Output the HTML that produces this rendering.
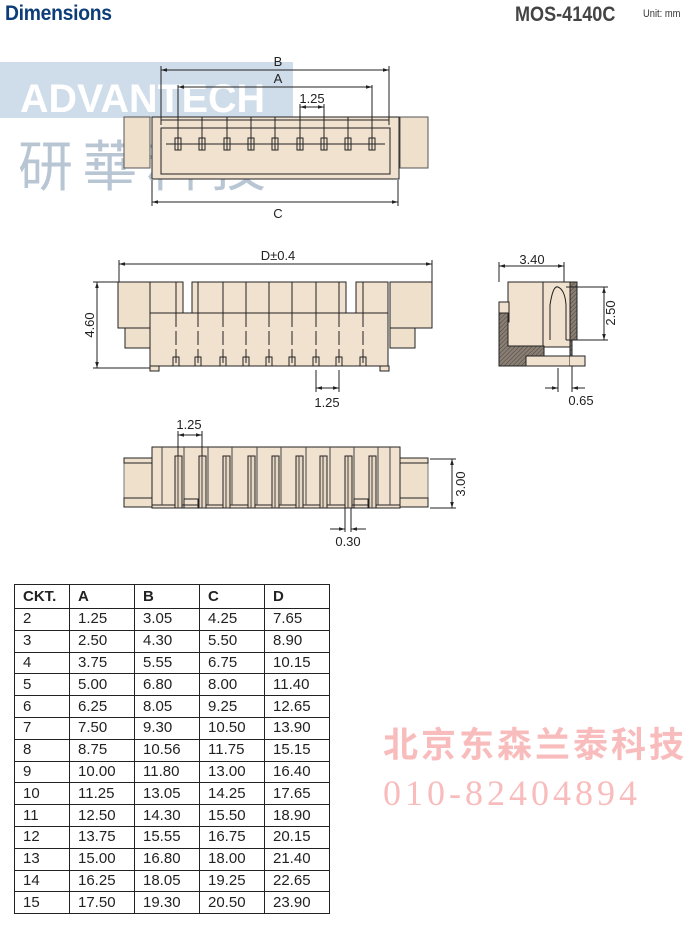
<!DOCTYPE html>
<html><head><meta charset="utf-8"><style>
html,body{margin:0;padding:0;background:#fff;}
body{width:700px;height:933px;position:relative;overflow:hidden;font-family:"Liberation Sans",sans-serif;}
.abs{position:absolute;}
table{position:absolute;left:14px;top:584px;border-collapse:collapse;font-family:"Liberation Sans",sans-serif;font-size:15px;color:#222;}
td{border:1px solid #222;height:21.8px;padding:0 0 0 8px;box-sizing:border-box;line-height:20px;}
tr.h td{font-weight:bold;height:24px;}
</style></head><body>
<div class="abs" style="left:5px;top:2px;font-size:21px;font-weight:bold;color:#0d3d78;letter-spacing:-0.3px;transform:scaleX(.92);transform-origin:left;">Dimensions</div>
<div class="abs" style="left:515px;top:3px;font-size:21px;font-weight:bold;color:#444;transform:scaleX(.86);transform-origin:left;">MOS-4140C</div>
<div class="abs" style="left:643px;top:8px;font-size:11px;color:#333;transform:scaleX(.85);transform-origin:left;">Unit: mm</div>

<svg class="abs" style="left:0;top:0" width="700" height="933" viewBox="0 0 700 933" font-family="Liberation Sans, sans-serif">
<defs>
<marker id="ar" viewBox="0 0 10 10" refX="10" refY="5" markerWidth="6" markerHeight="6" orient="auto-start-reverse"><path d="M0,2 L10,5 L0,8 z" fill="#222"/></marker>
<pattern id="hat" width="3" height="3" patternUnits="userSpaceOnUse" patternTransform="rotate(45)"><rect width="3" height="3" fill="#8a7f74"/><line x1="0" y1="0" x2="0" y2="3" stroke="#4a423b" stroke-width="1"/></pattern>
</defs>
<!-- watermark -->
<rect x="0" y="62" width="293" height="56" fill="#cfdcea"/>
<text x="20" y="112" font-size="40" font-weight="bold" fill="#fff" textLength="245" lengthAdjust="spacingAndGlyphs">ADVANTECH</text>
<text x="18" y="186" font-size="55" fill="#b8c6d4" font-family="Noto Sans CJK TC, sans-serif" textLength="248" lengthAdjust="spacing">研華科技</text>

<g stroke="#222" stroke-width="1" fill="none">
<!-- TOP VIEW -->
<rect x="124" y="117" width="26" height="51" fill="#efe0cc" stroke="#555"/>
<rect x="400" y="117" width="28" height="51" fill="#efe0cc" stroke="#555"/>
<rect x="152" y="117" width="247" height="62" fill="#f1e2cf"/>
<rect x="161" y="128" width="229" height="46"/>
<line x1="161" y1="120" x2="389" y2="120"/>
<g>
<line x1="178" y1="117" x2="178" y2="150"/><rect x="175" y="138" width="6" height="12"/>
<line x1="202" y1="117" x2="202" y2="150"/><rect x="199" y="138" width="6" height="12"/>
<line x1="227" y1="117" x2="227" y2="150"/><rect x="224" y="138" width="6" height="12"/>
<line x1="251" y1="117" x2="251" y2="150"/><rect x="248" y="138" width="6" height="12"/>
<line x1="275" y1="117" x2="275" y2="150"/><rect x="272" y="138" width="6" height="12"/>
<line x1="300" y1="117" x2="300" y2="150"/><rect x="297" y="138" width="6" height="12"/>
<line x1="324" y1="117" x2="324" y2="150"/><rect x="321" y="138" width="6" height="12"/>
<line x1="348" y1="117" x2="348" y2="150"/><rect x="345" y="138" width="6" height="12"/>
<line x1="372" y1="117" x2="372" y2="150"/><rect x="369" y="138" width="6" height="12"/>
</g>
<line x1="166" y1="144" x2="385" y2="144"/>
<line x1="161" y1="66" x2="161" y2="125"/><line x1="389" y1="66" x2="389" y2="125"/>
<line x1="161" y1="70" x2="389" y2="70" marker-start="url(#ar)" marker-end="url(#ar)"/>
<line x1="178" y1="85" x2="178" y2="117"/><line x1="372" y1="85" x2="372" y2="117"/>
<line x1="178" y1="87" x2="372" y2="87" marker-start="url(#ar)" marker-end="url(#ar)"/>
<line x1="300" y1="104" x2="300" y2="117"/><line x1="324" y1="104" x2="324" y2="117"/>
<line x1="300" y1="107" x2="324" y2="107" marker-start="url(#ar)" marker-end="url(#ar)"/>
<line x1="152" y1="180" x2="152" y2="206"/><line x1="398" y1="180" x2="398" y2="206"/>
<line x1="152" y1="202" x2="398" y2="202" marker-start="url(#ar)" marker-end="url(#ar)"/>

<!-- FRONT VIEW -->
<rect x="118" y="282" width="32" height="46" fill="#efe0cc"/>
<rect x="125" y="328" width="25" height="20" fill="#efe0cc"/>
<rect x="390" y="282" width="42" height="46" fill="#efe0cc"/>
<rect x="390" y="328" width="25" height="20" fill="#efe0cc"/>
<rect x="150" y="282" width="33" height="31" fill="#f1e2cf"/>
<rect x="192" y="282" width="154" height="31" fill="#f1e2cf"/>
<rect x="356" y="282" width="32" height="31" fill="#f1e2cf"/>
<rect x="150" y="313" width="238" height="53" fill="#f1e2cf"/>
<rect x="150" y="366" width="9" height="5" fill="#f1e2cf"/><rect x="380" y="366" width="9" height="5" fill="#f1e2cf"/>
<g>
<path d="M176 282V313M198 282V313M223 282V313M246 282V313M269 282V313M292 282V313M316 282V313M339 282V313M363 282V313"/>
<path d="M176 313V366M198 313V366M223 313V366M246 313V366M269 313V366M292 313V366M316 313V366M339 313V366M363 313V366" stroke-dasharray="14,4"/>
<rect x="173" y="357" width="6" height="9"/><rect x="195" y="357" width="6" height="9"/><rect x="220" y="357" width="6" height="9"/><rect x="243" y="357" width="6" height="9"/><rect x="266" y="357" width="6" height="9"/><rect x="289" y="357" width="6" height="9"/><rect x="313" y="357" width="6" height="9"/><rect x="336" y="357" width="6" height="9"/><rect x="360" y="357" width="6" height="9"/>
</g>
<line x1="119" y1="260" x2="119" y2="282"/><line x1="432" y1="260" x2="432" y2="282"/>
<line x1="119" y1="264" x2="432" y2="264" marker-start="url(#ar)" marker-end="url(#ar)"/>
<line x1="93" y1="282" x2="118" y2="282"/><line x1="93" y1="368" x2="150" y2="368"/>
<line x1="97" y1="282" x2="97" y2="368" marker-start="url(#ar)" marker-end="url(#ar)"/>
<line x1="316" y1="370" x2="316" y2="392"/><line x1="339" y1="370" x2="339" y2="392"/>
<line x1="316" y1="388" x2="339" y2="388" marker-start="url(#ar)" marker-end="url(#ar)"/>

<!-- SIDE VIEW -->
<rect x="508" y="282" width="64" height="65" fill="#f1e2cf"/>
<rect x="499" y="302" width="10" height="20" fill="#f1e2cf"/>
<path d="M499 313H508V346H544V366H499Z" fill="url(#hat)"/>
<path d="M570 282H577V340H572V356H526V366H570Z" fill="url(#hat)"/>
<rect x="526" y="356" width="44" height="10" fill="#f1e2cf"/>
<path d="M570 356H585V366H570" fill="#f1e2cf"/>
<line x1="543" y1="282" x2="543" y2="346"/>
<path d="M550 340V305Q553 285 558 287Q565 290 566 305V340"/>
<line x1="499" y1="262" x2="499" y2="282"/><line x1="564" y1="262" x2="564" y2="282"/>
<line x1="499" y1="266" x2="564" y2="266" marker-start="url(#ar)" marker-end="url(#ar)"/>
<line x1="566" y1="287" x2="608" y2="287"/><line x1="566" y1="340" x2="608" y2="340"/>
<line x1="604" y1="287" x2="604" y2="340" marker-start="url(#ar)" marker-end="url(#ar)"/>
<line x1="558" y1="368" x2="558" y2="392"/><line x1="572" y1="366" x2="572" y2="392"/>
<line x1="545" y1="388" x2="558" y2="388" marker-end="url(#ar)"/><line x1="585" y1="388" x2="572" y2="388" marker-end="url(#ar)"/>

<!-- BOTTOM VIEW -->
<rect x="124" y="460" width="28" height="38" fill="#efe0cc" stroke="#777"/>
<rect x="124" y="458" width="28" height="5" fill="#efe0cc"/><rect x="124" y="498" width="28" height="9" fill="#efe0cc"/>
<rect x="400" y="460" width="28" height="38" fill="#efe0cc" stroke="#777"/>
<rect x="400" y="458" width="28" height="5" fill="#efe0cc"/><rect x="400" y="498" width="28" height="9" fill="#efe0cc"/>
<rect x="152" y="447" width="248" height="61" fill="#f1e2cf"/>
<line x1="152" y1="505" x2="400" y2="505"/>
<path d="M162 447V505M390 447V505M184 447V505M208 447V505M232 447V505M257 447V505M281 447V505M306 447V505M330 447V505M354 447V505M378 447V505" stroke="#444"/>
<g fill="#e8d7c2">
<rect x="175" y="456" width="7" height="52"/><rect x="199" y="456" width="7" height="52"/><rect x="223" y="456" width="7" height="52"/><rect x="248" y="456" width="7" height="52"/><rect x="272" y="456" width="7" height="52"/><rect x="296" y="456" width="7" height="52"/><rect x="320" y="456" width="7" height="52"/><rect x="345" y="456" width="7" height="52"/><rect x="369" y="456" width="7" height="52"/>
</g>
<path d="M178 456V508M202 456V508M226 456V508M251 456V508M275 456V508M299 456V508M323 456V508M348 456V508M372 456V508" stroke="#444"/>
<rect x="184" y="499" width="14" height="9"/><rect x="354" y="499" width="14" height="9"/>
<line x1="178" y1="431" x2="178" y2="456"/><line x1="202" y1="431" x2="202" y2="456"/>
<line x1="178" y1="435" x2="202" y2="435" marker-start="url(#ar)" marker-end="url(#ar)"/>
<line x1="430" y1="459" x2="456" y2="459"/><line x1="430" y1="508" x2="456" y2="508"/>
<line x1="452" y1="459" x2="452" y2="508" marker-start="url(#ar)" marker-end="url(#ar)"/>
<line x1="345" y1="508" x2="345" y2="532"/><line x1="351" y1="508" x2="351" y2="532"/>
<line x1="330" y1="529" x2="345" y2="529" marker-end="url(#ar)"/><line x1="366" y1="529" x2="351" y2="529" marker-end="url(#ar)"/>
</g>
<g font-size="13" fill="#222" text-anchor="middle">
<text x="278" y="66">B</text><text x="278" y="83">A</text><text x="312" y="103">1.25</text><text x="278" y="218">C</text>
<text x="278" y="260">D±0.4</text><text x="327" y="407">1.25</text>
<text x="532" y="264">3.40</text><text x="581" y="405">0.65</text>
<text x="189" y="429">1.25</text><text x="348" y="546">0.30</text>
<text transform="translate(94,325) rotate(-90)">4.60</text>
<text transform="translate(615,313) rotate(-90)">2.50</text>
<text transform="translate(465,484) rotate(-90)">3.00</text>
</g>
<text x="383" y="757" font-size="35" font-weight="bold" fill="#f9bcbc" font-family="Noto Sans CJK SC, sans-serif" letter-spacing="3">北京东森兰泰科技</text>
<text x="383" y="805" font-size="36" fill="#f9bcbc" font-family="Liberation Serif, serif" letter-spacing="4">010-82404894</text>
</svg>

<table>
<tr class="h"><td style="width:55px">CKT.</td><td style="width:65px">A</td><td style="width:65px">B</td><td style="width:65px">C</td><td style="width:65px">D</td></tr>
<tr><td>2</td><td>1.25</td><td>3.05</td><td>4.25</td><td>7.65</td></tr>
<tr><td>3</td><td>2.50</td><td>4.30</td><td>5.50</td><td>8.90</td></tr>
<tr><td>4</td><td>3.75</td><td>5.55</td><td>6.75</td><td>10.15</td></tr>
<tr><td>5</td><td>5.00</td><td>6.80</td><td>8.00</td><td>11.40</td></tr>
<tr><td>6</td><td>6.25</td><td>8.05</td><td>9.25</td><td>12.65</td></tr>
<tr><td>7</td><td>7.50</td><td>9.30</td><td>10.50</td><td>13.90</td></tr>
<tr><td>8</td><td>8.75</td><td>10.56</td><td>11.75</td><td>15.15</td></tr>
<tr><td>9</td><td>10.00</td><td>11.80</td><td>13.00</td><td>16.40</td></tr>
<tr><td>10</td><td>11.25</td><td>13.05</td><td>14.25</td><td>17.65</td></tr>
<tr><td>11</td><td>12.50</td><td>14.30</td><td>15.50</td><td>18.90</td></tr>
<tr><td>12</td><td>13.75</td><td>15.55</td><td>16.75</td><td>20.15</td></tr>
<tr><td>13</td><td>15.00</td><td>16.80</td><td>18.00</td><td>21.40</td></tr>
<tr><td>14</td><td>16.25</td><td>18.05</td><td>19.25</td><td>22.65</td></tr>
<tr><td>15</td><td>17.50</td><td>19.30</td><td>20.50</td><td>23.90</td></tr>
</table>
</body></html>
